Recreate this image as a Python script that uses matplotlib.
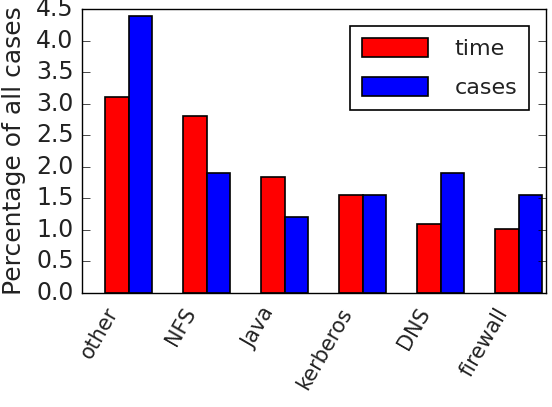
import matplotlib
matplotlib.use("Agg")
import matplotlib.pyplot as plt
import numpy as np

plt.style.use('classic')
plt.rcParams['font.family'] = ['DejaVu Sans']

categories = ["other", "NFS", "Java", "kerberos", "DNS", "firewall"]
time_vals = [3.11, 2.80, 1.84, 1.55, 1.09, 1.01]
case_vals = [4.39, 1.90, 1.20, 1.56, 1.90, 1.56]
yticks = [0.0, 0.5, 1.0, 1.5, 2.0, 2.5, 3.0, 3.5, 4.0, 4.5]

width = 0.3
ind = np.arange(len(categories))

fig = plt.figure(figsize=(5.52, 4.07), dpi=100)
fig.patch.set_facecolor('white')
ax = fig.add_axes([82/552, 1 - 293/407, (546-82)/552, (293-9)/407])

ax.bar(ind, time_vals, width, align='edge', color='red', edgecolor='black', linewidth=1.2, label='time')
ax.bar(ind + width, case_vals, width, align='edge', color='blue', edgecolor='black', linewidth=1.2, label='cases')

ax.set_xlim(-0.3, 5.65)
ax.set_ylim(0, 4.5)
ax.set_yticks(yticks)
ax.set_yticklabels(["%.1f" % v for v in yticks], fontsize=17, color='#222222')
ax.set_xticks(ind + 0.21)
ax.set_xticklabels(categories, rotation=60, ha='right', fontsize=15, color='#222222')
ax.tick_params(axis='x', length=0, pad=8)
ax.tick_params(axis='y', pad=6, length=6)
ax.set_ylabel("Percentage of all cases", fontsize=18, labelpad=7, color='#222222')

leg = ax.legend(loc='upper right', fontsize=16, handlelength=2.95, handleheight=0.95,
                handletextpad=1.2, labelspacing=0.8, borderaxespad=0.75, borderpad=0.55,
                fancybox=False, shadow=False, numpoints=1)
leg.get_frame().set_edgecolor('black')
leg.get_frame().set_linewidth(1.2)
for t in leg.get_texts():
    t.set_color('#222222')

fig.savefig("out.png", dpi=100, facecolor='white')
